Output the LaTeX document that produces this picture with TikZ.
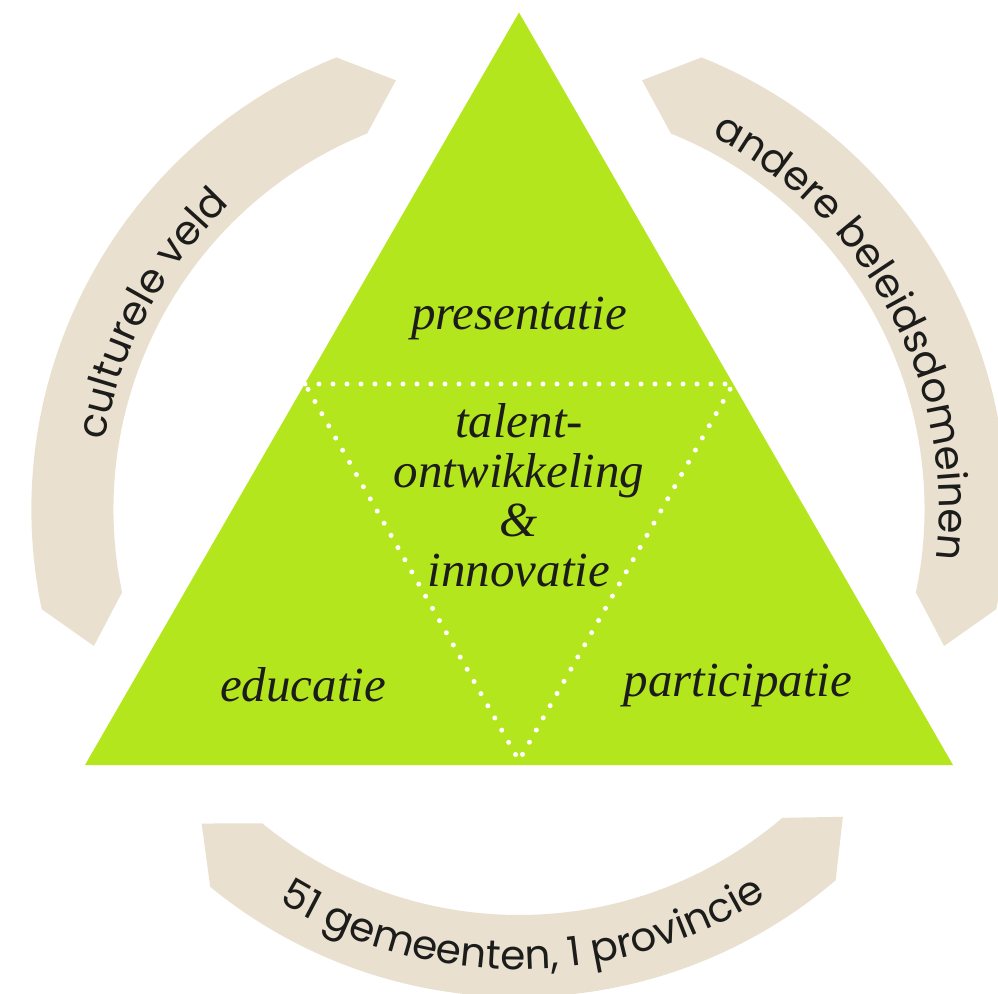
\documentclass[tikz,border=0pt]{standalone}
\usepackage{fontspec}
\setmainfont{Liberation Serif}
\newfontfamily\bandfont{Poppins}
\usetikzlibrary{decorations.text}

\definecolor{leaf}{HTML}{B4E61E}
\definecolor{sand}{HTML}{E9E0D0}
\definecolor{ink}{HTML}{1C1C1A}

\def\tikzscale{1}
\def\Rout{487.6pt}
\def\Rin{405.5pt}
\def\Rmid{446.5pt}
\def\tipang{6}

%% one beige band with pointed ends, from angle #1 to angle #2
\newcommand{\bandarc}[2]{%
  \fill[sand] (#1:\Rout) arc[start angle=#1,end angle=#2,radius=\Rout]
  -- ({#2+\tipang}:\Rmid) -- (#2:\Rin)
  arc[start angle=#2,end angle=#1,radius=\Rin]
  -- ({#1-\tipang}:\Rmid) -- cycle;}

\tikzset{
  pillar/.style={font=\fontsize{49}{49.5}\selectfont\itshape,text=ink,inner sep=0pt},
  bandtext/.style={decorate,decoration={text along path,text align=center,
      text={|\bandfont\fontsize{40.5}{40.5}\selectfont\color{ink}|#1}}}
}

\begin{document}
\begin{tikzpicture}[x=\tikzscale pt,y=\tikzscale pt]

  \useasboundingbox (-519,-483.5) rectangle (479,509.5);

  %% the three bands round the triangle
  \bandarc{112}{191.8}
  \bandarc{-11.8}{68}
  \bandarc{230.7}{310.5}

  \path[bandtext={culturele veld}] (200:420pt) arc[start angle=200,end angle=104,radius=420pt];
  \path[bandtext={andere beleidsdomeinen}] (76:420pt) arc[start angle=76,end angle=-20,radius=420pt];
  \path[bandtext={51 gemeenten, 1 provincie}] (222.5:460pt) arc[start angle=222.5,end angle=318.5,radius=460pt];

  %% triangle
  \coordinate (top) at (0,497);
  \coordinate (bl)  at (-434,-255.5);
  \coordinate (br)  at (434,-255.5);
  \fill[leaf] (top) -- (bl) -- (br) -- cycle;

  \coordinate (ml) at (-214,125.5);
  \coordinate (mr) at (214,125.5);
  \coordinate (mb) at (0,-251);
  \draw[white,line width=5pt,line cap=round,dash pattern=on 0pt off 14pt]
  (ml) -- (mr) -- (mb) -- cycle;

  \node[pillar] (presentatie) at (0,191) {presentatie};
  \node[pillar,align=center] (talent) at (0,14)
  {talent-\\ontwikkeling\\\&\\innovatie};
  \node[pillar] (educatie) at (-216,-175) {educatie};
  \node[pillar] (participatie) at (219,-176) {participatie};

\end{tikzpicture}
\end{document}
